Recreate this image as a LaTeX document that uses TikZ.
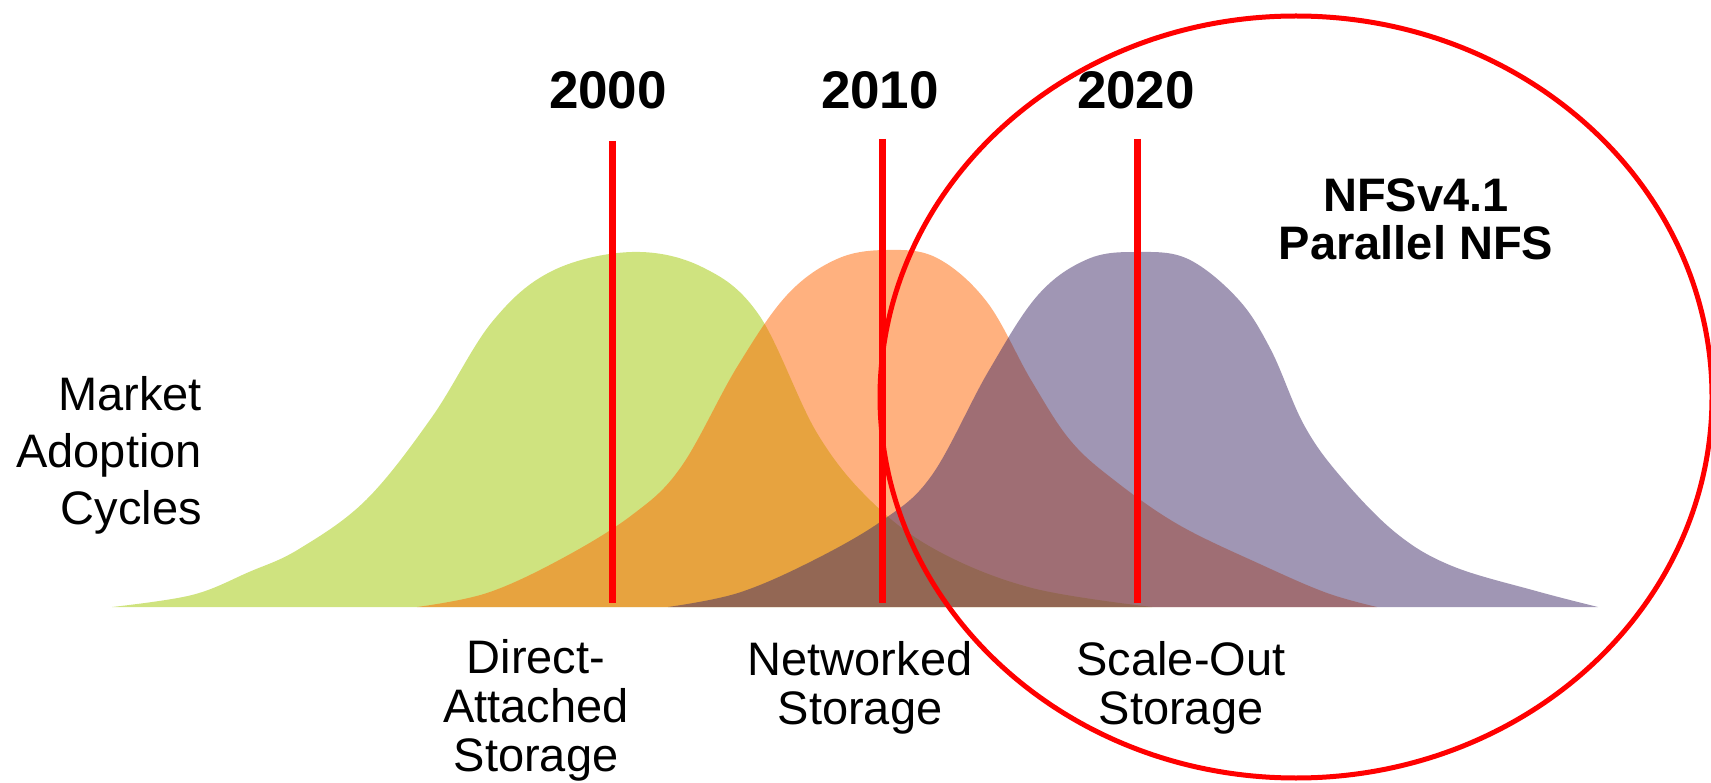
\documentclass[tikz,border=0pt]{standalone}
\usepackage{fontspec}
\setmainfont{Liberation Sans}
\definecolor{grn}{RGB}{160,200,0}
\definecolor{org}{RGB}{255,100,0}
\definecolor{prp}{RGB}{65,45,105}
\definecolor{mark}{RGB}{255,0,0}
\tikzset{
  bell/.style={fill opacity=0.5, draw=none},
  yearline/.style={draw=mark, line width=7pt},
  yearlbl/.style={font=\fontsize{53}{53}\selectfont\bfseries, inner sep=0pt, anchor=base},
  lbl/.style={font=\fontsize{47}{49}\selectfont, inner sep=0pt, align=center, anchor=base},
}
\begin{document}
\begin{tikzpicture}[x=1pt,y=-1pt]
\useasboundingbox (0,0) rectangle (1711,783);
% green curve
\begin{scope}[shift={(632,607)}]
\fill[bell, grn] plot[smooth, tension=0.6] coordinates {
 (-520,0) (-440,-12) (-383,-35) (-333,-58) (-266,-107) (-200,-190)
 (-140,-285) (-80,-336) (0,-355) (70,-340) (127,-292) (185,-174)
 (240,-105) (306,-56) (400,-19) (520,0)} -- cycle;
\end{scope}
% orange curve
\begin{scope}[shift={(887,607)}]
\fill[bell, org] plot[smooth, tension=0.6] coordinates {
 (-470,0) (-400,-14) (-326,-48) (-255,-92) (-206,-140) (-150,-240)
 (-100,-312) (-50,-348) (0,-357) (50,-349) (100,-305) (144,-227)
 (183,-167) (227,-127) (292,-82) (375,-42) (440,-14) (490,0)} -- cycle;
\end{scope}
% purple curve
\begin{scope}[shift={(1138,607)}]
\fill[bell, prp] plot[smooth, tension=0.6] coordinates {
 (-470,0) (-400,-14) (-326,-46) (-255,-87) (-206,-132) (-150,-235)
 (-100,-312) (-50,-348) (0,-355) (50,-348) (100,-308) (133,-257)
 (166,-182) (203,-130) (258,-74) (314,-41) (398,-16) (460,0)} -- cycle;
\end{scope}
% year lines
\coordinate (t2000) at (612,141); \coordinate (b2000) at (612,603);
\coordinate (t2010) at (882,139); \coordinate (b2010) at (882,603);
\coordinate (t2020) at (1137,139); \coordinate (b2020) at (1137,603);
\draw[yearline] (t2000) -- (b2000);
\draw[yearline] (t2010) -- (b2010);
\draw[yearline] (t2020) -- (b2020);
% ellipse
\draw[draw=mark, line width=5pt] (1296,397) ellipse [x radius=416pt, y radius=381pt];
% labels
\node[yearlbl] (y2000) at (608,109) {2000};
\node[yearlbl] (y2010) at (880,109) {2010};
\node[yearlbl] (y2020) at (1136,109) {2020};
\node[lbl, font=\fontsize{47}{48}\selectfont\bfseries] (nfs) at (1416,260) {NFSv4.1\\Parallel NFS};
\node[lbl, font=\fontsize{47}{57}\selectfont, align=right, anchor=base east] (mac) at (202,524) {Market\\Adoption\\Cycles};
\node[lbl, font=\fontsize{47}{49}\selectfont] (das) at (536,771) {Direct-\\Attached\\Storage};
\node[lbl] (ns) at (860,724) {Networked\\Storage};
\node[lbl] (sos) at (1181,724) {Scale-Out\\Storage};
\end{tikzpicture}
\end{document}
